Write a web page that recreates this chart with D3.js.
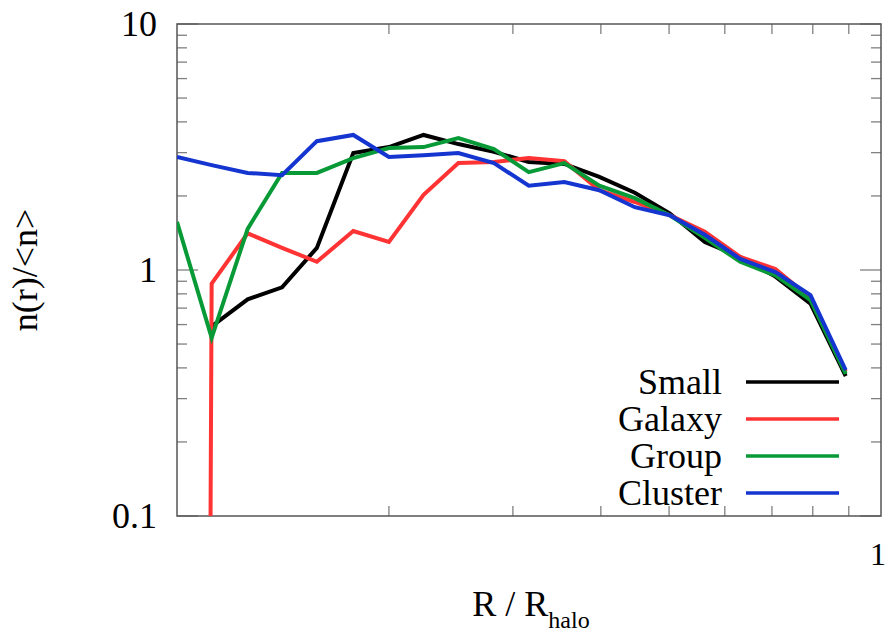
<!DOCTYPE html>
<html>
<head>
<meta charset="utf-8">
<script src="https://cdn.jsdelivr.net/npm/d3@7"></script>
<style>
  body { margin: 0; background: #fff; }
  svg { display: block; }
  svg text { font-family: "Liberation Serif", Tinos, "Times New Roman", Times, "Nimbus Roman", "DejaVu Serif", FreeSerif, serif; }
</style>
</head>
<body>
<svg id="chart"></svg>
<script>
var width = 887;
var height = 633;
var margin = { top: 24, right: 3, bottom: 117, left: 177 };

// radial bins, R / R_halo (log spaced)
var radius = [0.100, 0.112, 0.126, 0.141, 0.158, 0.178, 0.200, 0.224, 0.251, 0.282,
              0.316, 0.355, 0.398, 0.447, 0.501, 0.562, 0.631, 0.708, 0.794, 0.891];

// n(r)/<n> per halo class (null = no point, 0 = empty bin)
var small   = [null, 0.59, 0.76, 0.85, 1.23, 2.99, 3.16, 3.54, 3.25, 3.02,
               2.75, 2.70, 2.39, 2.06, 1.70, 1.30, 1.13, 0.94, 0.73, 0.37];
var galaxy  = [0, 0.88, 1.41, 1.23, 1.08, 1.44, 1.30, 2.02, 2.72, 2.75,
               2.85, 2.77, 2.11, 1.89, 1.67, 1.43, 1.13, 1.01, 0.77, 0.385];
var group   = [1.57, 0.53, 1.47, 2.48, 2.48, 2.85, 3.13, 3.16, 3.44, 3.10,
               2.50, 2.72, 2.20, 1.96, 1.67, 1.35, 1.08, 0.95, 0.755, 0.378];
var cluster = [2.88, 2.67, 2.48, 2.43, 3.34, 3.54, 2.88, 2.93, 2.99, 2.72,
               2.20, 2.28, 2.11, 1.80, 1.67, 1.39, 1.11, 0.98, 0.79, 0.392];

var seriesNames = ["Small", "Galaxy", "Group", "Cluster"];
var seriesColors = ["#000000", "#ff3333", "#079a36", "#1535d0"];
var seriesValues = [small, galaxy, group, cluster];

var yTickLabels = [0.1, 1, 10];
var xTickLabels = [1];

var x0 = margin.left, x1 = width - margin.right - 3;
var y0 = height - margin.bottom, y1 = margin.top;

var x = d3.scaleLog().domain([0.1, 1]).range([x0, x1]);
var y = d3.scaleLog().domain([0.1, 10]).range([y0, y1]);

var svg = d3.select("#chart")
  .attr("width", width).attr("height", height);

svg.append("defs").append("clipPath").attr("id", "plotclip")
  .append("rect")
  .attr("x", x0).attr("y", y1)
  .attr("width", x1 - x0).attr("height", y0 - y1);

// minor / major ticks
var yMinor = [], xMinor = [];
[0.1, 1].forEach(function(d) {
  for (var i = 2; i <= 9; i++) yMinor.push(d * i);
});
for (var i = 2; i <= 9; i++) xMinor.push(i / 10);

var g_ticks = svg.append("g").attr("stroke", "#808080").attr("stroke-width", 1.3);

g_ticks.selectAll(".yl").data(yMinor).enter().append("line")
  .attr("x1", x0).attr("x2", x0 + 10)
  .attr("y1", function(d) { return y(d); }).attr("y2", function(d) { return y(d); });
g_ticks.selectAll(".yr").data(yMinor).enter().append("line")
  .attr("x1", x1).attr("x2", x1 - 10)
  .attr("y1", function(d) { return y(d); }).attr("y2", function(d) { return y(d); });
g_ticks.selectAll(".ylm").data(yTickLabels).enter().append("line")
  .attr("x1", x0).attr("x2", x0 + 21)
  .attr("y1", function(d) { return y(d); }).attr("y2", function(d) { return y(d); });
g_ticks.selectAll(".yrm").data(yTickLabels).enter().append("line")
  .attr("x1", x1).attr("x2", x1 - 21)
  .attr("y1", function(d) { return y(d); }).attr("y2", function(d) { return y(d); });
g_ticks.selectAll(".xb").data(xMinor).enter().append("line")
  .attr("y1", y0).attr("y2", y0 - 10)
  .attr("x1", function(d) { return x(d); }).attr("x2", function(d) { return x(d); });
g_ticks.selectAll(".xt").data(xMinor).enter().append("line")
  .attr("y1", y1).attr("y2", y1 + 10)
  .attr("x1", function(d) { return x(d); }).attr("x2", function(d) { return x(d); });

// frame
svg.append("rect")
  .attr("x", x0).attr("y", y1)
  .attr("width", x1 - x0).attr("height", y0 - y1)
  .attr("fill", "none").attr("stroke", "#555").attr("stroke-width", 1.5);

// tick labels
svg.selectAll(".ylab").data(yTickLabels).enter().append("text")
  .attr("x", 157).attr("y", function(d) { return y(d) + 12; })
  .attr("text-anchor", "end").style("font-size", "36px")
  .text(function(d) { return d3.format("~g")(d); });

svg.selectAll(".xlab").data(xTickLabels).enter().append("text")
  .attr("x", width - 1).attr("y", 565)
  .attr("text-anchor", "end").style("font-size", "32px")
  .text(function(d) { return d; });

// axis titles
svg.append("text")
  .attr("transform", "translate(37,270) rotate(-90)")
  .attr("text-anchor", "middle").style("font-size", "36px")
  .text("n(r)/<n>");

var xt = svg.append("text")
  .attr("x", 531).attr("y", 616)
  .attr("text-anchor", "middle").style("font-size", "36px");
xt.append("tspan").text("R / R");
xt.append("tspan").attr("dy", 12).style("font-size", "24px").text("halo");

// data lines
var line = d3.line()
  .defined(function(d) { return d.v != null; })
  .x(function(d) { return x(d.r); })
  .y(function(d) { return y(Math.max(d.v, 1e-30)); }); // empty bin drops off the bottom

var g_lines = svg.append("g").attr("clip-path", "url(#plotclip)");

seriesValues.forEach(function(vals, i) {
  var pts = radius.map(function(r, k) { return { r: r, v: vals[k] }; });
  g_lines.append("path")
    .datum(pts)
    .attr("d", line)
    .attr("fill", "none")
    .attr("stroke", seriesColors[i])
    .attr("stroke-width", 4)
    .attr("stroke-linejoin", "miter");
});

// legend
var legendY = d3.scalePoint().domain(seriesNames).range([382, 493]);
var g_leg = svg.append("g");
seriesNames.forEach(function(name, i) {
  g_leg.append("text")
    .attr("x", 722).attr("y", legendY(name) + 12)
    .attr("text-anchor", "end").style("font-size", "36px")
    .text(name);
  g_leg.append("line")
    .attr("x1", 746).attr("x2", 839)
    .attr("y1", legendY(name)).attr("y2", legendY(name))
    .attr("stroke", seriesColors[i]).attr("stroke-width", 3.5);
});
</script>
</body>
</html>
